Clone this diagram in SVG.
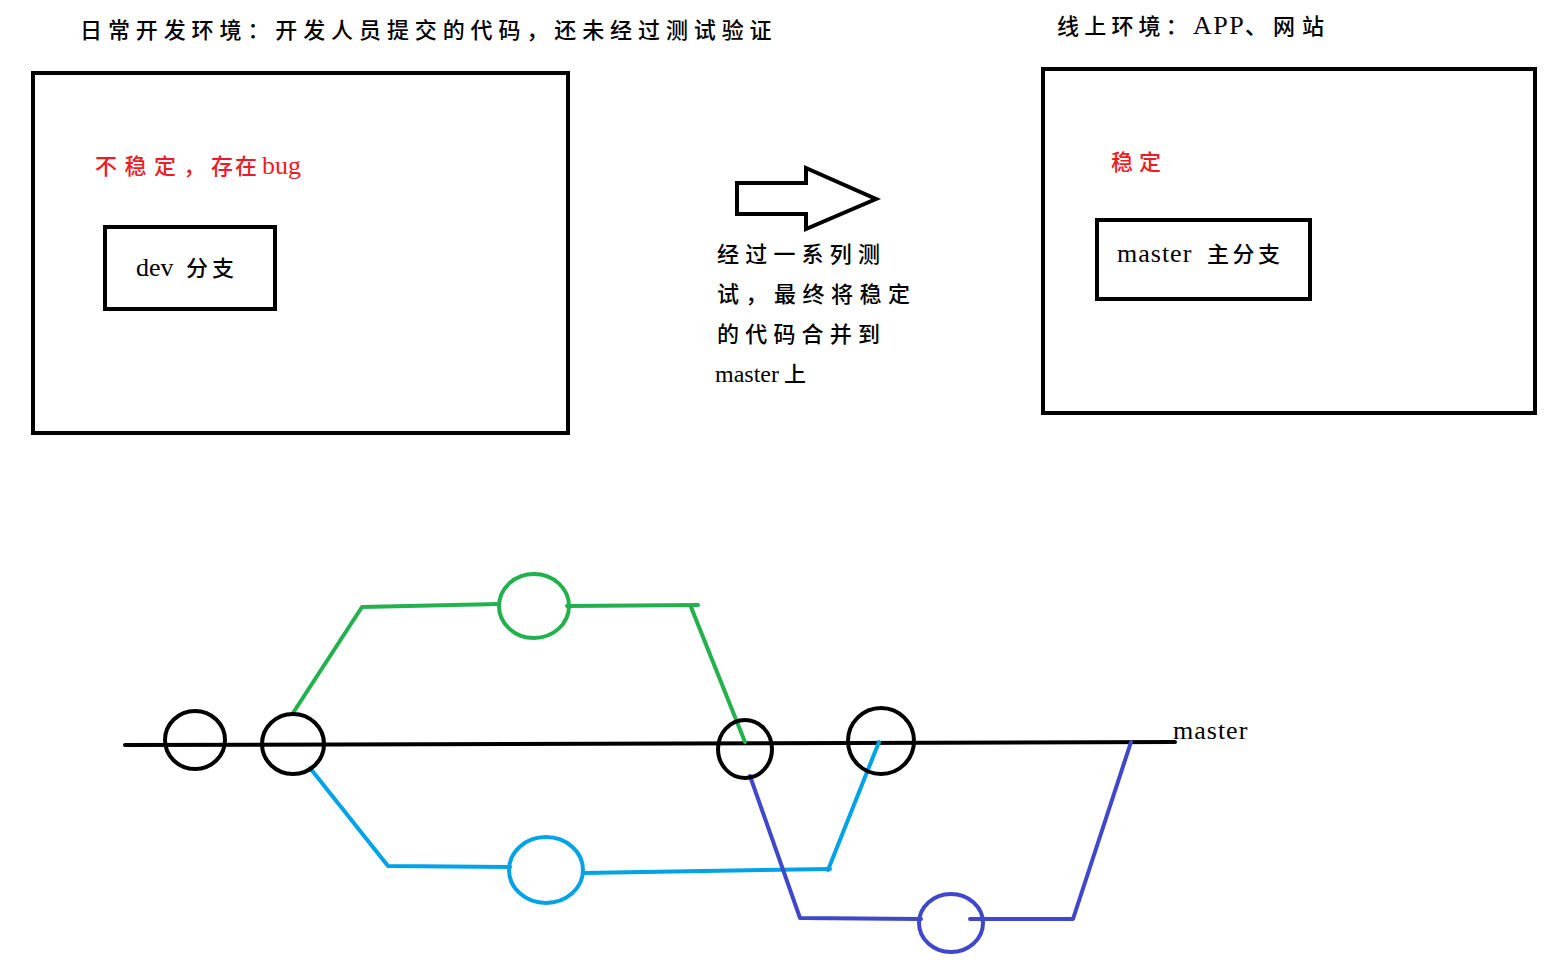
<svg xmlns="http://www.w3.org/2000/svg" width="1546" height="971" viewBox="0 0 1546 971">
<style>
text{font-family:"Noto Sans CJK SC","Liberation Serif",serif;font-size:22px;font-weight:500;fill:#000}
.lat{font-family:"Liberation Serif","Noto Sans CJK SC",serif;font-size:26px;font-weight:400}
.red{fill:#ed1c24}
.box{fill:none;stroke:#000;stroke-width:4}
.k{fill:none;stroke:#000;stroke-width:4;stroke-linecap:round}
.g{fill:none;stroke:#22b14c;stroke-width:4;stroke-linecap:round;stroke-linejoin:round}
.c{fill:none;stroke:#00a2e8;stroke-width:4;stroke-linecap:round;stroke-linejoin:round}
.b{fill:none;stroke:#3f48cc;stroke-width:4;stroke-linecap:round;stroke-linejoin:round}
</style>
<rect width="1546" height="971" fill="#fff"/>
<g id="title-dev"><text x="80" y="38" letter-spacing="5.9">日常开发环境：开发人员提交的代码，还未经过测试验证</text></g>
<g id="title-prod"><text y="34"><tspan x="1057" letter-spacing="5.2">线上环境：</tspan><tspan class="lat" x="1193" letter-spacing="1.5">APP</tspan><tspan x="1245">、</tspan><tspan x="1273" letter-spacing="7">网站</tspan></text></g>
<g id="env-dev">
<rect class="box" x="33" y="73" width="535" height="360"/>
<text class="red" y="174"><tspan x="95" letter-spacing="7.5">不稳定，</tspan><tspan x="211" letter-spacing="2">存在</tspan><tspan class="lat" x="262">bug</tspan></text>
</g>
<g id="dev-branch">
<rect class="box" x="105" y="227" width="170" height="82"/>
<text y="276"><tspan class="lat" x="136">dev</tspan><tspan x="186" letter-spacing="4">分支</tspan></text>
</g>
<g id="env-prod">
<rect class="box" x="1043" y="69" width="492" height="344"/>
<text class="red" x="1111" y="170" letter-spacing="6">稳定</text>
</g>
<g id="master-branch">
<rect class="box" x="1097" y="220" width="213" height="79"/>
<text y="262"><tspan class="lat" x="1117" letter-spacing="1">master</tspan><tspan x="1207" letter-spacing="3.5">主分支</tspan></text>
</g>
<g id="arrow">
<polygon points="737,183 806,183 806,168 876,199 806,229 806,214 737,214" fill="#fff" stroke="#000" stroke-width="4" stroke-linejoin="miter"/>
</g>
<g id="merge-note">
<text x="717" y="262" letter-spacing="6.2">经过一系列测</text>
<text x="717" y="302" letter-spacing="6.5">试，最终将稳定</text>
<text x="717" y="342" letter-spacing="6.2">的代码合并到</text>
<text y="382"><tspan class="lat" x="715" style="font-size:24px">master</tspan><tspan x="784">上</tspan></text>
</g>
<g id="connectors">
<line class="k" x1="125" y1="745" x2="1175" y2="742"/>
<polyline class="g" points="293,713 362,607 499,604"/>
<polyline class="g" points="567,606 698,605"/>
<polyline class="g" points="691,607 745,742"/>
<polyline class="c" points="310,768 388,866 510,867"/>
<polyline class="c" points="583,873 830,869"/>
<polyline class="c" points="828,870 879,742"/>
<polyline class="b" points="750,776 800,918 921,919"/>
<polyline class="b" points="970,919 1073,919 1131,742"/>
</g>
<g id="commit-1"><ellipse cx="195" cy="740" rx="30" ry="29" fill="none" stroke="#000" stroke-width="4"/></g>
<g id="commit-2"><ellipse cx="293" cy="744" rx="31" ry="30" fill="none" stroke="#000" stroke-width="4"/></g>
<g id="commit-3"><ellipse cx="745" cy="749" rx="27" ry="29" fill="none" stroke="#000" stroke-width="4"/></g>
<g id="commit-4"><ellipse cx="881" cy="741" rx="33" ry="33" fill="none" stroke="#000" stroke-width="4"/></g>
<g id="commit-green"><ellipse cx="534" cy="606" rx="35" ry="32" fill="none" stroke="#22b14c" stroke-width="4"/></g>
<g id="commit-cyan"><ellipse cx="546" cy="870" rx="37" ry="33" fill="none" stroke="#00a2e8" stroke-width="4"/></g>
<g id="commit-indigo"><ellipse cx="951" cy="923" rx="32" ry="29" fill="none" stroke="#3f48cc" stroke-width="4"/></g>
<g id="label-master"><text class="lat" x="1173" y="739" letter-spacing="1">master</text></g>
</svg>
